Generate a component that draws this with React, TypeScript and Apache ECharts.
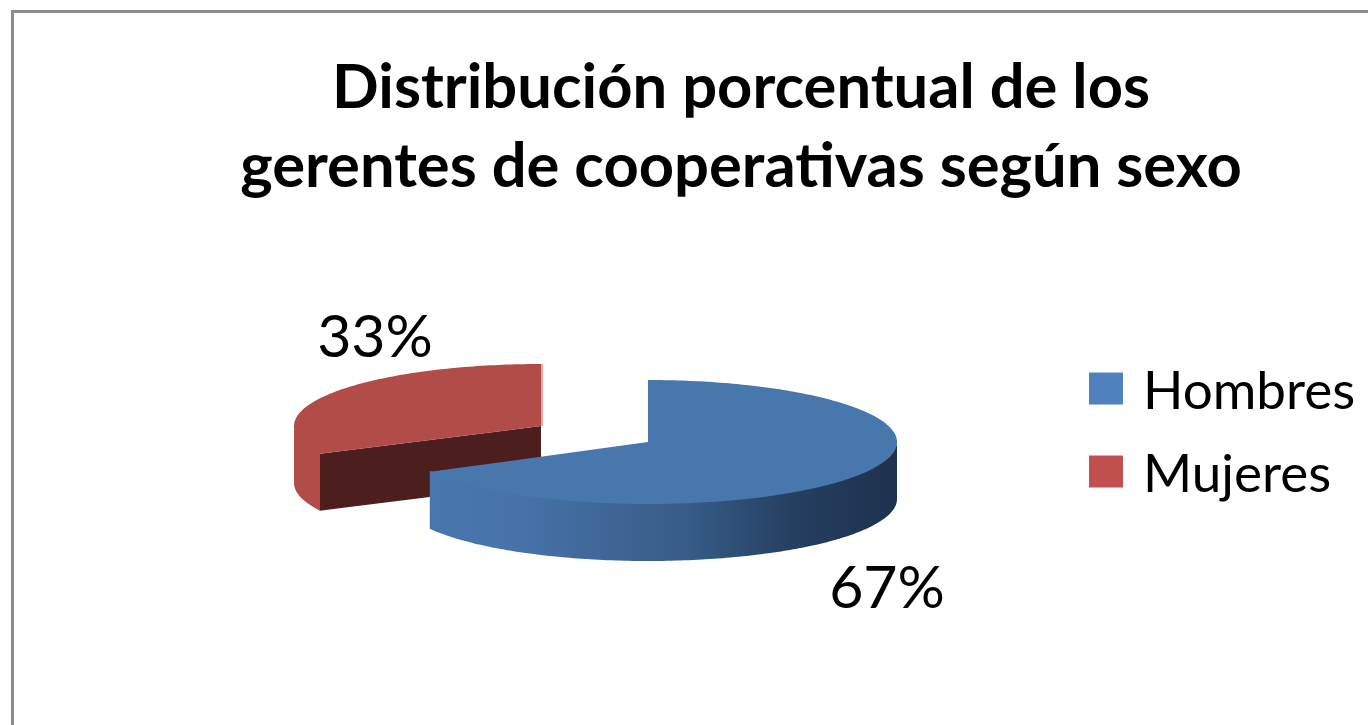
import React, { useEffect, useRef } from "react";
import * as echarts from "echarts";

const titleText = "Distribución porcentual de los\ngerentes de cooperativas según sexo";
const categories = ["Mujeres", "Hombres"];
const sliceValues = [33, 67];
const labelTexts = ["33%", "67%"];
const legendOrder = ["Hombres", "Mujeres"];
const legendColors: Record<string, string> = { Hombres: "#4F81BD", Mujeres: "#C0504D" };

const FONT = "Lato";
const RY = 62;
const DEPTH = 57;
const STEP = 1;

const rad = (d: number) => (d * Math.PI) / 180;

type Geo = { cx: number; cy: number; rx: number; startShift: number; labelX: number; labelY: number };
const geo: Record<string, Geo> = {
  Hombres: { cx: 648, cy: 442, rx: 249, startShift: 0, labelX: 887, labelY: 585 },
  Mujeres: { cx: 541, cy: 426, rx: 247, startShift: 2.3, labelX: 375, labelY: 334 },
};

const total = sliceValues.reduce((a, b) => a + b, 0);

function arcPts(g: Geo, from: number, to: number, dy = 0) {
  const pts: number[][] = [];
  const n = Math.max(2, Math.ceil(Math.abs(to - from) / STEP));
  for (let i = 0; i <= n; i++) {
    const a = rad(from + ((to - from) * i) / n);
    pts.push([g.cx + g.rx * Math.sin(a), g.cy - RY * Math.cos(a) + dy]);
  }
  return pts;
}

function wall(g: Geo, from: number, to: number) {
  return [...arcPts(g, from, to, -1), ...arcPts(g, from, to, DEPTH).reverse()];
}

function poly(points: number[][], fill: any) {
  return { type: "polygon", shape: { points }, style: { fill, stroke: null } };
}

const hombresWall = new echarts.graphic.LinearGradient(0, 0, 1, 0, [
  { offset: 0, color: "#4877ae" },
  { offset: 0.2, color: "#4672a8" },
  { offset: 0.38, color: "#3f6696" },
  { offset: 0.55, color: "#375c88" },
  { offset: 0.78, color: "#253f5f" },
  { offset: 1, color: "#1d324e" },
]);

function renderHombres(_p: any, api: any) {
  const g = geo.Hombres;
  const sweep = (api.value(0) / total) * 360;
  return {
    type: "group",
    children: [
      poly(wall(g, 90, sweep), hombresWall),
      poly([[g.cx, g.cy], ...arcPts(g, 0, sweep)], "#4877ae"),
      {
        type: "text",
        style: {
          text: labelTexts[1], x: g.labelX, y: g.labelY, fill: "#000",
          font: `59px ${FONT}`, align: "center", verticalAlign: "middle",
        },
      },
    ],
  };
}

function renderMujeres(_p: any, api: any) {
  const g = geo.Mujeres;
  const sweep = (api.value(0) / total) * 360;
  const start = 360 - sweep + g.startShift;
  const edge = arcPts(g, start, start)[0];
  return {
    type: "group",
    children: [
      poly(wall(g, start, 270), "#b24c48"),
      poly(
        [[g.cx, g.cy], edge, [edge[0], edge[1] + DEPTH], [g.cx, g.cy + DEPTH]],
        "#4c1e1e"
      ),
      poly([[g.cx, g.cy], ...arcPts(g, start, 360)], "#b24c48"),
      {
        type: "line",
        shape: { x1: g.cx + 1, y1: g.cy - RY, x2: g.cx + 1, y2: g.cy },
        style: { stroke: "#e2aaa8", lineWidth: 2 },
      },
      {
        type: "text",
        style: {
          text: labelTexts[0], x: g.labelX, y: g.labelY, fill: "#000",
          font: `59px ${FONT}`, align: "center", verticalAlign: "middle",
        },
      },
    ],
  };
}

const renderers: Record<string, any> = { Hombres: renderHombres, Mujeres: renderMujeres };

export default function App() {
  const ref = useRef<HTMLDivElement>(null);
  useEffect(() => {
    document.body.style.margin = "0";
    const chart = echarts.init(ref.current!, null, { renderer: "svg" });
    chart.setOption({
      animation: false,
      backgroundColor: "#ffffff",
      title: {
        text: titleText,
        left: 736,
        top: 39,
        textAlign: "center",
        textStyle: { fontFamily: FONT, fontWeight: "bold", fontSize: 61.5, lineHeight: 79, color: "#000" },
      },
      legend: {
        data: legendOrder,
        orient: "vertical",
        left: 1089,
        top: 362,
        padding: 0,
        icon: "rect",
        itemWidth: 34,
        itemHeight: 32,
        itemGap: 30,
        selectedMode: false,
        textStyle: { fontFamily: FONT, fontSize: 53, color: "#000", padding: [0, 0, 0, 15] },
      },
      graphic: [
        { type: "line", shape: { x1: 12.5, y1: 11, x2: 12.5, y2: 725 }, style: { stroke: "#8c8c8c", lineWidth: 3 } },
        { type: "line", shape: { x1: 11, y1: 11.5, x2: 1368, y2: 11.5 }, style: { stroke: "#8c8c8c", lineWidth: 3 } },
      ],
      series: categories.map((name, i) => ({
        type: "custom",
        name,
        coordinateSystem: "none",
        z: i + 2,
        itemStyle: { color: legendColors[name] },
        renderItem: renderers[name],
        data: [[sliceValues[i]]],
      })),
    });
    return () => chart.dispose();
  }, []);
  return <div ref={ref} style={{ width: 1368, height: 725 }} />;
}
